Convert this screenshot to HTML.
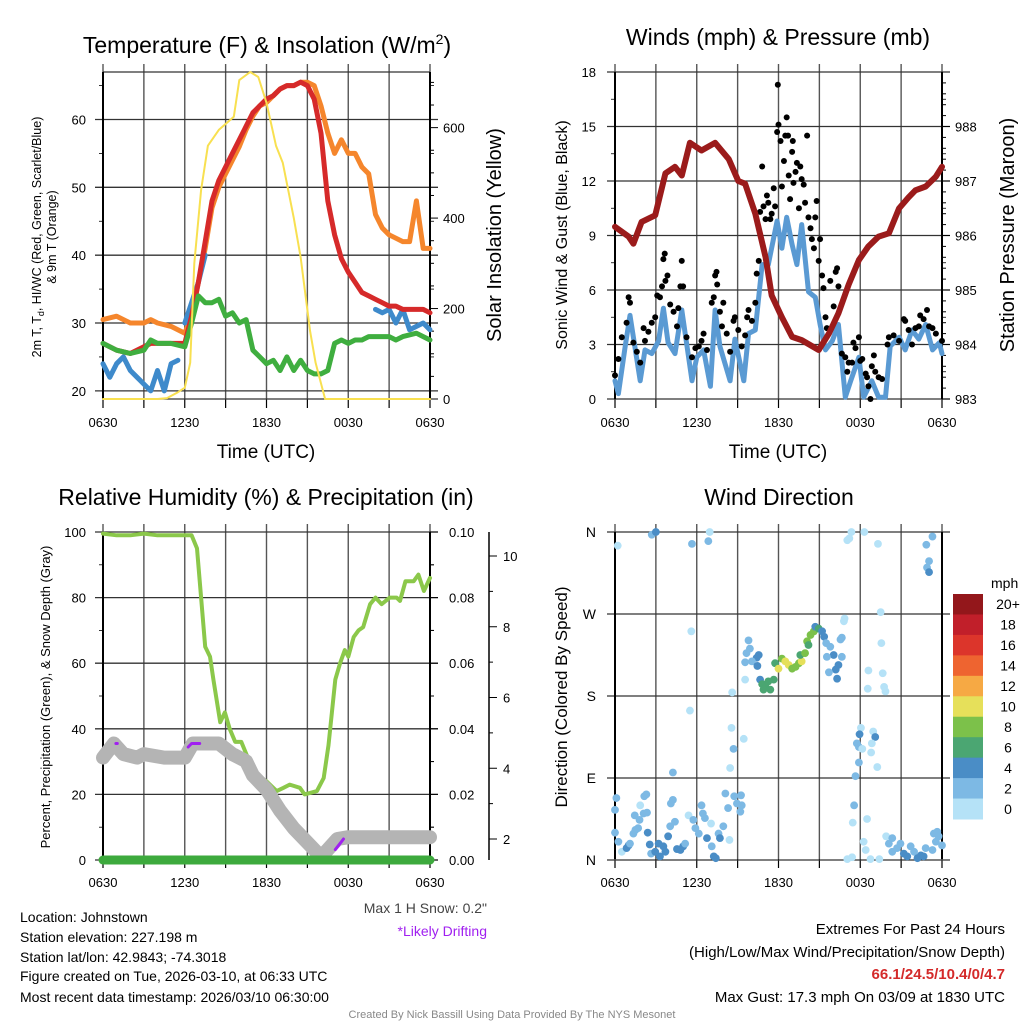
<!DOCTYPE html>
<html><head><meta charset="utf-8"><style>
html,body{margin:0;padding:0;background:#fff}
svg{display:block;font-family:"Liberation Sans",Arial,sans-serif}
</style></head><body>
<svg id="c" width="1024" height="1024" viewBox="0 0 1024 1024" xmlns="http://www.w3.org/2000/svg">
<text x="267" y="53" font-size="23" text-anchor="middle">Temperature (F) &amp; Insolation (W/m<tspan dy="-9" font-size="14">2</tspan><tspan dy="9">)</tspan></text>
<text x="778" y="45" font-size="23" text-anchor="middle">Winds (mph) &amp; Pressure (mb)</text>
<text x="266" y="505" font-size="23" text-anchor="middle">Relative Humidity (%) &amp; Precipitation (in)</text>
<text x="779" y="505" font-size="23" text-anchor="middle">Wind Direction</text>
<text x="266" y="458" font-size="19" text-anchor="middle">Time (UTC)</text>
<text x="778" y="458" font-size="19" text-anchor="middle">Time (UTC)</text>
<text transform="translate(41,237) rotate(-90)" font-size="12.5" text-anchor="middle">2m T, T<tspan dy="3" font-size="9">d</tspan><tspan dy="-3">, HI/WC (Red, Green, Scarlet/Blue)</tspan></text>
<text transform="translate(56,237) rotate(-90)" font-size="12.5" text-anchor="middle">&amp; 9m T (Orange)</text>
<text transform="translate(501,235) rotate(-90)" font-size="20" text-anchor="middle">Solar Insolation (Yellow)</text>
<text transform="translate(567,235) rotate(-90)" font-size="16" text-anchor="middle">Sonic Wind &amp; Gust (Blue, Black)</text>
<text transform="translate(1014,235) rotate(-90)" font-size="20" text-anchor="middle">Station Pressure (Maroon)</text>
<text transform="translate(50,697) rotate(-90)" font-size="13" text-anchor="middle">Percent, Precipitation (Green), &amp; Snow Depth (Gray)</text>
<text transform="translate(567,697) rotate(-90)" font-size="17" text-anchor="middle">Direction (Colored By Speed)</text>
<text x="487" y="913" font-size="14" fill="#444" text-anchor="end">Max 1 H Snow: 0.2"</text>
<text x="487" y="936" font-size="14" fill="#a020f0" text-anchor="end">*Likely Drifting</text>
<g font-size="14">
<text x="20" y="922">Location: Johnstown</text>
<text x="20" y="942">Station elevation: 227.198 m</text>
<text x="20" y="962">Station lat/lon: 42.9843; -74.3018</text>
<text x="20" y="981">Figure created on Tue, 2026-03-10, at 06:33 UTC</text>
<text x="20" y="1002">Most recent data timestamp: 2026/03/10 06:30:00</text>
</g>
<g font-size="15" text-anchor="end">
<text x="1005" y="934">Extremes For Past 24 Hours</text>
<text x="1005" y="957">(High/Low/Max Wind/Precipitation/Snow Depth)</text>
<text x="1005" y="979" font-weight="bold" fill="#d42a2a">66.1/24.5/10.4/0/4.7</text>
<text x="1005" y="1002">Max Gust: 17.3 mph On 03/09 at 1830 UTC</text>
</g>
<text x="512" y="1018" font-size="11" fill="#888" text-anchor="middle">Created By Nick Bassill Using Data Provided By The NYS Mesonet</text>
</svg>
<script>
// ---- Temperature panel data (hours since 0630 UTC) ----
const tHours=[0,1,2,3,3.5,4,5,6,6.5,7,7.5,8,8.5,9,9.5,10,10.5,11,11.5,12,12.5,13,13.5,14,14.5,15,15.5,16,16.5,17,17.5,18,18.5,19,19.5,20,20.5,21,21.5,22,22.5,23,23.5,24];
const tempRed=[27,26,25.5,26.5,27,27,27,27,31,36,42,48,51,53,55,57,59,61,62,63,63.5,64.5,65,65,65.5,65,63,58,48,43,39.5,37.5,36,34.5,34,33.5,33,32.5,32.5,32,32,32,32,31.5];
const temp9m=[30.5,31,30,30,30.5,30,29.5,28.5,31,36,41,47,50,52,54,56,58.5,60.5,62,62.5,63.5,64.5,65,65,65.5,65.5,65,62,58,55,57,55,55,53,52,46,44,43,42.5,42,42,48,41,41];
const dewHours=[0,1,2,3,3.5,4,5,6,6.5,7,7.5,8,8.5,9,9.5,10,10.5,11,11.5,12,12.5,13,13.5,14,14.5,15,15.5,16,16.5,17,17.5,18,18.5,19,19.5,20,21,21.5,22,23,23.5,24];
const dewGreen=[27,26,25.5,26,27.5,27,27,26.5,30,34,33,33,33.5,31,31.5,30,30.5,26,25,24,24.5,23,25,23,24.5,23,22.5,22.5,23,27,27.5,27,27.5,27.5,28,28,28,27.5,28,28.5,28,27.5];
const wcHours=[0,0.5,1,1.5,2,2.5,3,3.5,4,4.5,5,5.5,null,6,6.5,7,7.5,null,20,20.5,21,21.5,22,22.5,23,23.5,24];
const wcBlue=[24,22,24,25,23,22,21,20,23,20,24,24.5,null,30,33,36,40,null,32,31.5,32,30,32,29,29.5,30,29];
const solHours=[0,4,4.7,5.5,6,6.4,6.7,7.2,7.7,8.5,9.6,10,10.8,11.4,12,12.7,13.2,14,14.5,15.2,15.6,16.3,18,24];
const solar=[0,0,2,15,25,80,300,462,560,595,624,705,723,712,655,560,522,400,314,150,80,0,0,0];
// ---- Wind panel data ----
const windHours=[0,.25,.75,1.1,1.45,1.85,2.2,2.7,3.2,3.55,3.9,4.4,4.9,5.25,5.65,6,6.5,7,7.35,7.7,8.45,8.8,9.45,9.8,10.3,10.8,11.25,11.9,12.25,12.6,13,13.35,13.7,14.2,14.7,15.05,15.45,15.95,16.4,16.9,17.3,17.9,18.25,18.85,19.35,19.85,20.2,20.85,21.3,21.8,22.3,22.8,23.3,23.8,24];
const windSpeed=[1,.3,2.9,4.6,2.9,1,2.7,2.5,3.2,5,3.1,2.5,4.9,3.1,1,2.3,2.7,.7,4.9,2.9,1,3.3,1,3.6,3.8,7.4,7.4,9.8,8.3,10,8.5,7.4,9.6,5.9,5.6,4.1,2.7,3.2,4.1,.1,1,2.3,.1,1,.1,.1,2.9,3.4,2.7,3.8,3.3,4.1,2.7,3.1,2.5];
const gustHours=[0,.25,.5,.85,1,1.1,1.35,1.6,1.85,2.1,2.2,2.45,2.7,2.95,3.1,3.3,3.45,3.55,3.65,3.7,3.85,4.05,4.3,4.55,4.65,4.8,4.9,5,5.25,5.65,5.9,6.15,6.35,6.5,6.75,7.1,7.25,7.35,7.45,7.5,7.7,7.85,7.95,8.2,8.45,8.7,8.8,9.05,9.3,9.55,9.7,9.8,10.05,10.3,10.4,10.55,10.65,10.8,10.9,11.05,11.15,11.25,11.4,11.5,11.65,11.75,11.9,11.95,12,12.15,12.25,12.4,12.5,12.6,12.7,12.75,12.85,13,13.05,13.1,13.25,13.35,13.5,13.6,13.7,13.85,13.95,14.1,14.2,14.35,14.45,14.6,14.7,14.8,14.95,15.05,15.2,15.3,15.45,15.55,15.8,16.05,16.2,16.3,16.4,16.65,16.9,17.05,17.15,17.4,17.5,17.65,17.9,18,18.15,18.4,18.5,18.6,18.75,18.85,19,19.1,19.35,19.6,20,20.1,20.45,20.85,21.2,21.3,21.55,21.8,22.05,22.3,22.4,22.65,22.9,23.05,23.3,23.55,24];
const gustSpeed=[1.3,2.2,3.4,4.2,5.6,5.3,3.1,2.6,2,3.9,3.2,3.7,4.2,4.5,5.7,5.6,6.2,7.7,8,6.5,6.8,5.2,4.8,4,5,6.2,7.6,6.2,3.4,2.3,2.8,2.9,3.2,3.6,2.7,5.3,5.6,6.8,7,6.3,4.8,4,5.3,3.6,2.6,4.3,4.5,3.8,2.9,3.5,4.5,4.9,4.3,5.3,6.9,7.6,10.3,12.8,10.6,9.9,11.2,10.8,9.9,10.2,11.6,10.6,14.7,17.3,15.1,14.2,11.7,13.1,14.5,15.5,14.5,12.3,11,13.6,14.2,11.9,12.5,13,10.5,12.8,12.1,11.8,10.8,14.5,10,9.4,8.8,8.3,10,10.9,7.6,8.8,6.8,6.1,4.5,3.9,6.5,5.1,7,7.2,6.2,2.5,2.3,1.5,2,2,3.1,2.8,3.4,2.1,2.2,1.4,1.2,.7,0,1.8,2.4,1.5,1.2,1.1,3,3.4,3.5,3.2,4.4,4.3,3.8,3,3.9,4,4.6,4.4,4.9,4,3.9,3.6,3.2];
const presHours=[0,1,1.35,1.95,2.95,3.7,4.4,4.9,5.5,6.35,7.35,8.35,9.05,9.55,10.3,11.05,11.5,12.25,13,13.7,14.95,15.7,16.4,17.15,17.9,18.6,19.35,20.1,20.85,21.55,22.05,22.8,23.55,24];
const pressure=[986.16,985.98,985.85,986.25,986.37,987.14,987.26,987.1,987.7,987.56,987.7,987.4,987,986.95,986.4,985.6,984.9,984.5,984.14,984.08,983.9,984.2,984.57,985.1,985.55,985.8,985.98,986.04,986.5,986.7,986.83,986.9,987.08,987.26];
// ---- RH panel data ----
const rhHours=[0,1,2,3,4,5,6,6.5,6.9,7.2,7.5,7.85,8.1,8.6,8.95,9.3,9.7,10.15,10.55,11.25,12,12.75,13.25,13.7,14.45,14.8,15.7,16.2,16.55,16.8,17.05,17.4,17.75,18,18.4,18.75,19.1,19.6,20,20.45,21.05,21.55,21.8,22.2,22.8,23.15,23.55,24];
const rhValues=[99.5,99,99,99.5,99,99,99,99,95,80,65,62,55,42,45,40,36,36,32,26,24,21,22,23,22,20,21,25,35,45,55,60,64,62,68,70,71,78,80,78,80,80,79,85,85,87,82,86];
const snowHours=[0,.8,1.5,2.5,3,4.5,6,6.6,8.5,9.5,10.5,11,12,13,14,15,16,16.5,17.2,18,24];
const snowDepth=[4.3,4.7,4.4,4.3,4.4,4.3,4.3,4.7,4.7,4.4,4.2,3.8,3.4,2.8,2.3,1.9,1.5,1.7,2,2.05,2.05];
const driftHours=[[0.95,1.05],[6.25,6.5,6.8,7.1],[17.05,17.35,17.65]];
const driftDepth=[[4.7,4.7],[4.6,4.7,4.7,4.7],[1.7,1.85,2.0]];
const precipHours=[0,24];
const precipValues=[0,0];
// ---- Wind direction data ----
const dirHours=[.2,2.7,3,5.65,6.85,6.95,17.05,17.2,17.35,18.3,19.3,22.85,23.3,23.05,22.9,23.05,19.5,16.85,16.8,5.6,19.55,18.6,19.65,18.55,19.75,19.85,9.55,8.6,5.5,8.55,9.45,8.7,8.45,4.25,18.05,17.95,18.95,19.1,17.75,17.9,18.85,18.15,18.8,17.9,19.25,17.65,17.55,17.45,18.5,
9.8,9.65,9.9,10.55,10.4,9.55,10.05,10.45,10.65,10.8,11.05,11.25,11.65,11.4,10.9,11.75,12,12.25,12.5,12.75,13,13.25,13.5,13.7,13.6,13.95,14.1,14.2,14.35,14.6,14.7,14.95,15.2,15.35,15.5,15.8,16.05,16.55,16.65,15.55,16.65,16.4,16.2,15.7,16.3,
0,.1,0,.25,.5,.85,1,1.1,1.35,1.5,1.7,1.45,1.8,2.1,2.35,1.85,2.15,2.3,2.4,2.55,2.65,2.95,3.2,3.3,3.55,3.7,3.9,4.05,4.4,4.55,4.8,5,5.15,5.4,5.75,5.9,6.15,6.35,6.45,6.6,6.75,7.05,7.1,7.25,7.4,7.6,7.7,7.95,8.1,8.3,8.4,8.75,8.95,9.25,9.3,9.2,4.25,4.1,17.05,17.4,18.25,18.4,18.75,19.4,19.9,20.1,20.35,20.35,20.7,20.95,21.2,21.45,21.7,21.95,22.2,22.45,22.65,22.8,23.3,23.4,23.65,23.75,24,23.55];
const dirDeg=[345,357,360,347,350,360,351,353,360,360,347,346,355,328,321,316,272,265,262,251,238,208,205,188,190,185,198,184,164,145,133,122,101,96,145,138,141,135,128,124,128,122,118,107,102,92,60,41,45,
241,227,232,225,222,217,218,213,198,193,190,196,198,187,187,216,210,221,218,214,210,212,216,218,225,227,240,236,247,251,256,254,251,245,238,234,225,242,244,223,223,214,209,206,199,
55,68,30,20,9,13,16,18,29,33,35,49,44,51,52,60,70,72,30,17,7,9,18,4,15,9,26,37,42,12,11,15,18,49,44,35,29,60,51,46,24,40,15,4,2,29,24,37,73,57,22,70,62,71,60,53,66,62,1,3,20,11,1,1,26,18,24,9,13,18,7,4,15,9,2,5,4,13,11,29,31,26,16,20];
const dirSpeed=[1,3,4,3,3,1,1,1,1,1,1,3,3,3,3,4,1,1,1,1,1,1,1,1,1,1,1,1,1,1,1,3,1,3,1,4,1,4,3,3,1,1,1,3,1,3,3,1,1,
3,3,3,4,4,3,3,4,4,6,6,6,6,6,6,6,10,8,10,10,8,8,8,10,6,8,8,6,8,8,4,6,4,4,3,3,4,3,3,3,3,4,4,3,4,
3,3,3,3,1,4,4,3,3,3,3,3,3,3,3,1,3,3,4,4,3,4,4,4,4,4,4,3,3,4,4,4,3,1,3,3,3,3,3,3,4,1,3,4,4,3,4,3,3,3,1,3,3,3,3,3,3,3,1,1,1,1,1,1,1,3,3,3,3,3,4,4,3,3,4,4,4,3,3,3,3,3,3,3];
const speedLabels=["0","2","4","6","8","10","12","14","16","18","20+"];
const speedColors=["#b5e2f7","#7db9e4","#4a8dc6","#4ba672","#7cc14a","#e6e05a","#f6a944","#ee6430","#dc352b","#c11f2a","#93171b"];
const timeLabels=["0630","1230","1830","0030","0630"];

const NS="http://www.w3.org/2000/svg";
const svg=document.getElementById('c');
function mk(tag,attrs,parent){const e=document.createElementNS(NS,tag);for(const k in attrs)e.setAttribute(k,attrs[k]);(parent||svg).appendChild(e);return e;}
function lin(d0,d1,r0,r1){return v=>r0+(v-d0)/(d1-d0)*(r1-r0);}
function pathFrom(xs,ys,fx,fy){let d="",pen=false;for(let i=0;i<xs.length;i++){if(xs[i]===null||ys[i]===null){pen=false;continue;}d+=(pen?"L":"M")+fx(xs[i]).toFixed(1)+" "+fy(ys[i]).toFixed(1);pen=true;}return d;}

function frame(x0,y0,name){
  const g=mk('g',{});
  
  
  const fx=lin(0,24,x0,x0+327);
  for(let h=0;h<=24;h+=3){
    const l=mk('line',{x1:fx(h),x2:fx(h),y1:y0-8,y2:y0+327,stroke:'#555','stroke-width':1.4},g);
    
    
    mk('line',{x1:fx(h),x2:fx(h),y1:y0+327,y2:y0+336,stroke:'#000','stroke-width':1.2},g);
  }
  timeLabels.forEach((t,i)=>{const tx=mk('text',{x:fx(i*6),y:y0+355,'font-size':13,'text-anchor':'middle'},g);tx.textContent=t;
    
    });
  return {g,fx};
}
function hgrid(g,x0,y,major){const l=mk('line',{x1:x0-(major?8:4),x2:x0+327+(major?8:4),y1:y,y2:y,stroke:major?'#333':'#000','stroke-width':major?1.3:0.8},g);
  if(!major){l.setAttribute('x2',x0);mk('line',{x1:x0+327,x2:x0+331,y1:y,y2:y,stroke:'#000','stroke-width':0.8},g);}}
function border(g,x0,y0){mk('line',{x1:x0,x2:x0,y1:y0,y2:y0+327,stroke:'#000','stroke-width':2},g);mk('line',{x1:x0+327,x2:x0+327,y1:y0,y2:y0+327,stroke:'#000','stroke-width':2},g);}
function label(g,x,y,t,anchor,fs){const e=mk('text',{x:x,y:y+5,'font-size':fs||13,'text-anchor':anchor},g);e.textContent=t;
  
  }
function line(g,xs,ys,fx,fy,color,w,name){const p=mk('path',{d:pathFrom(xs,ys,fx,fy),fill:'none',stroke:color,'stroke-width':w,'stroke-linejoin':'round','stroke-linecap':'round'},g);
  
  }

// ---- Panel 1: temperature ----
{const X0=103,Y0=72;const {g,fx}=frame(X0,Y0,'temp');
 const fy=lin(18.8,67.0,399,72), fs=lin(0,723,399,72);
 for(let v=20;v<=65;v+=5){hgrid(g,X0,fy(v),v%10===0);if(v%10===0)label(g,86,fy(v),String(v),'end');}
 mk('line',{x1:X0,x2:X0+327,y1:72,y2:72,stroke:'#333','stroke-width':1.3},g);
 mk('line',{x1:X0,x2:X0+327,y1:399,y2:399,stroke:'#333','stroke-width':1.3},g);
 for(let v=0;v<=700;v+=50){const y=fs(v);mk('line',{x1:X0+327,x2:X0+327+(v%200===0?8:4),y1:y,y2:y,stroke:'#000','stroke-width':1},g);if(v%200===0)label(g,443,y,String(v),'start');}
 border(g,X0,Y0);
 line(g,tHours,temp9m,fx,fy,'#f5862c',5,'series-9m-temp');
 line(g,wcHours,wcBlue,fx,fy,'#3e8acb',5,'series-windchill');
 line(g,tHours,tempRed,fx,fy,'#d62a2a',5,'series-2m-temp');
 line(g,dewHours,dewGreen,fx,fy,'#3fae3f',5,'series-dewpoint');
 line(g,solHours,solar,fx,fs,'#f8e050',2,'series-solar');
}
// ---- Panel 2: wind & pressure ----
{const X0=615,Y0=72;const {g,fx}=frame(X0,Y0,'wind');
 const fy=lin(0,18,399,72), fp=lin(983,989,399,72);
 for(let v=0;v<=18;v+=1.5){hgrid(g,X0,fy(v),v%3===0);if(v%3===0)label(g,596,fy(v),String(v),'end');}
 for(let v=983;v<=989;v+=0.2){const y=fp(v);const maj=Math.abs(v-Math.round(v))<0.01;mk('line',{x1:X0+327,x2:X0+327+(maj?8:4),y1:y,y2:y,stroke:'#000','stroke-width':1},g);if(maj)label(g,955,y,String(Math.round(v)),'start');}
 border(g,X0,Y0);
 line(g,windHours,windSpeed,fx,fy,'#5a9ad3',5,'series-wind-speed');
 gustHours.forEach((h,i)=>{const c=mk('circle',{cx:fx(h),cy:fy(gustSpeed[i]),r:3,fill:'#000'},g);
   
   });
 line(g,presHours,pressure,fx,fp,'#9b1b1b',6,'series-pressure');
}
// ---- Panel 3: RH ----
{const X0=103,Y0=532;const {g,fx}=frame(X0,Y0,'rh');
 const fy=lin(0,100,860,532), fpr=lin(0,0.1,860,532), fsn=lin(2,10,839,556);
 for(let v=0;v<=100;v+=10){hgrid(g,X0,fy(v),v%20===0);if(v%20===0)label(g,86,fy(v),String(v),'end');}
 for(let v=0;v<=10;v++){const y=fpr(v/100);mk('line',{x1:X0+327,x2:X0+327+(v%2===0?8:4),y1:y,y2:y,stroke:'#000','stroke-width':1},g);if(v%2===0)label(g,449,y,(v/100).toFixed(2),'start');}
 mk('line',{x1:489,x2:489,y1:532,y2:860,stroke:'#000','stroke-width':1.5},g);
 for(let v=2;v<=10.5;v+=1){const y=fsn(v);mk('line',{x1:489,x2:489+(v%2===0?8:4),y1:y,y2:y,stroke:'#000','stroke-width':1},g);if(v%2===0)label(g,503,y,String(v),'start');}
 border(g,X0,Y0);
 line(g,rhHours,rhValues,fx,fy,'#8bc84a',4,'series-rh');
 line(g,snowHours,snowDepth,fx,fsn,'#b4b4b4',14,'series-snow-depth');
 driftHours.forEach((hs,i)=>line(g,hs,driftDepth[i],fx,fsn,'#a020f0',3,'series-drifting'));
 line(g,precipHours,precipValues,fx,fpr,'#3daa3d',9,'series-precip');
}
// ---- Panel 4: wind direction ----
{const X0=615,Y0=532;const {g,fx}=frame(X0,Y0,'dir');
 const fy=lin(0,360,860,532);
 ["N","E","S","W","N"].forEach((t,i)=>{hgrid(g,X0,fy(i*90),true);label(g,596,fy(i*90),t,'end',14);});
 border(g,X0,Y0);
 dirHours.forEach((h,i)=>{const b=Math.min(10,Math.floor(dirSpeed[i]/2));const c=mk('circle',{cx:fx(h),cy:fy(dirDeg[i]),r:3.9,fill:speedColors[b]},g);
   
   });
 const lg=mk('g',{});
 
 
 const t=mk('text',{x:991,y:588,'font-size':14},lg);t.textContent='mph';
 const bh=(819-594)/speedColors.length;
 for(let i=0;i<speedColors.length;i++){const k=speedColors.length-1-i;const y=594+i*bh;
   const r=mk('rect',{x:953,y:y,width:30,height:bh+0.5,fill:speedColors[k]},lg);
   
   
   const tx=mk('text',{x:1008,y:y+bh/2+5,'font-size':14,'text-anchor':'middle'},lg);tx.textContent=speedLabels[k];}
}
</script>
</body></html>
